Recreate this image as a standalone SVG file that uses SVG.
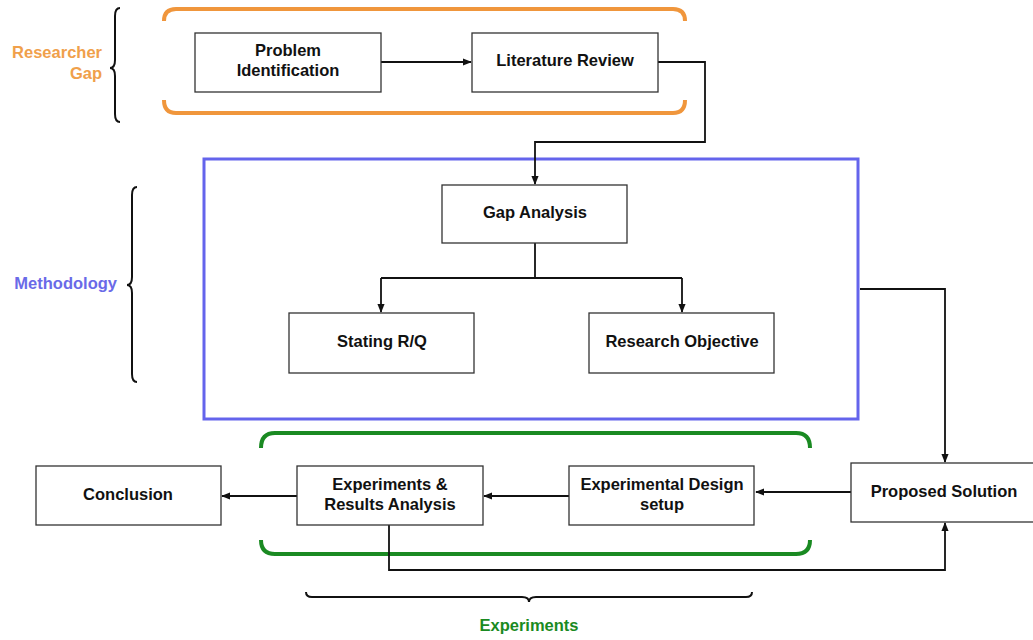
<svg xmlns="http://www.w3.org/2000/svg" width="1033" height="640" viewBox="0 0 1033 640">
  <style>
    .box { fill: #ffffff; stroke: #333333; stroke-width: 1.3; }
    .lbl { font-family: "Liberation Sans", Arial, sans-serif; font-weight: bold; font-size: 16.5px; fill: #111111; text-anchor: middle; }
    .grp { font-family: "Liberation Sans", Arial, sans-serif; font-weight: bold; font-size: 16.5px; }
    .wire { fill: none; stroke: #111111; stroke-width: 1.8; }
    .brace { fill: none; stroke: #111111; stroke-width: 2; }
  </style>
  <defs>
    <marker id="arrow" viewBox="0 0 10 10" refX="9" refY="5" markerWidth="9" markerHeight="9" markerUnits="userSpaceOnUse" orient="auto">
      <path d="M0,1 L10,5 L0,9 z" fill="#111111"/>
    </marker>
  </defs>
  <rect width="1033" height="640" fill="#ffffff"/>

  <!-- Researcher Gap group -->
  <g id="researcher-gap">
    <text class="grp" fill="#f0a04b" text-anchor="end" x="102" y="58">Researcher</text>
    <text class="grp" fill="#f0a04b" text-anchor="end" x="102" y="79">Gap</text>
    <path class="brace" d="M120,8 Q115,8 115,16 L115,60 Q115,68 110,68 Q115,68 115,76 L115,114 Q115,122 120,122"/>
    <path d="M164,21 Q164,9 176,9 L673,9 Q685,9 685,21" fill="none" stroke="#f0963c" stroke-width="4"/>
    <path d="M164,100 Q164,113 176,113 L673,113 Q685,113 685,100" fill="none" stroke="#f0963c" stroke-width="4"/>
  </g>

  <!-- Methodology group -->
  <g id="methodology">
    <text class="grp" fill="#6a6ae8" text-anchor="end" x="117" y="289">Methodology</text>
    <path class="brace" d="M137,187 Q132,187 132,195 L132,277 Q132,285 127,285 Q132,285 132,293 L132,374 Q132,382 137,382"/>
    <rect x="204" y="159" width="654" height="260" fill="none" stroke="#6464ec" stroke-width="3"/>
  </g>

  <!-- Experiments group -->
  <g id="experiments">
    <path d="M261,448 Q261,433 275,433 L796,433 Q810,433 810,448" fill="none" stroke="#1a8a22" stroke-width="4"/>
    <path d="M261,540 Q261,554 275,554 L796,554 Q810,554 810,540" fill="none" stroke="#1a8a22" stroke-width="4"/>
    <path class="brace" d="M306,592 Q306,597 312,597 L522,597 Q529,597 529,602 Q529,597 536,597 L746,597 Q752,597 752,592"/>
    <text class="grp" fill="#1a8a22" text-anchor="middle" x="529" y="631">Experiments</text>
  </g>

  <!-- Connectors -->
  <g id="connectors">
    <path class="wire" d="M381,62 L471,62" marker-end="url(#arrow)"/>
    <path class="wire" d="M658,62 L705,62 L705,142 L535,142 L535,184" marker-end="url(#arrow)"/>
    <path class="wire" d="M535,243 L535,278"/>
    <path class="wire" d="M381,278 L682,278"/>
    <path class="wire" d="M381,278 L381,312" marker-end="url(#arrow)"/>
    <path class="wire" d="M682,278 L682,312" marker-end="url(#arrow)"/>
    <path class="wire" d="M860,289 L945,289 L945,462" marker-end="url(#arrow)"/>
    <path class="wire" d="M851,492 L756,492" marker-end="url(#arrow)"/>
    <path class="wire" d="M569,496 L484,496" marker-end="url(#arrow)"/>
    <path class="wire" d="M297,496 L222,496" marker-end="url(#arrow)"/>
    <path class="wire" d="M389,525 L389,570 L945,570 L945,523" marker-end="url(#arrow)"/>
  </g>

  <!-- Nodes -->
  <g id="problem-identification">
    <rect class="box" x="195" y="33" width="186" height="59"/>
    <text class="lbl" x="288" y="56">Problem</text>
    <text class="lbl" x="288" y="76">Identification</text>
  </g>
  <g id="literature-review">
    <rect class="box" x="472" y="33" width="186" height="59"/>
    <text class="lbl" x="565" y="66">Literature Review</text>
  </g>
  <g id="gap-analysis">
    <rect class="box" x="442" y="185" width="185" height="58"/>
    <text class="lbl" x="535" y="218">Gap Analysis</text>
  </g>
  <g id="stating-rq">
    <rect class="box" x="289" y="313" width="185" height="60"/>
    <text class="lbl" x="382" y="347">Stating R/Q</text>
  </g>
  <g id="research-objective">
    <rect class="box" x="589" y="313" width="185" height="60"/>
    <text class="lbl" x="682" y="347">Research Objective</text>
  </g>
  <g id="proposed-solution">
    <rect class="box" x="851" y="463" width="184" height="59"/>
    <text class="lbl" x="944" y="497">Proposed Solution</text>
  </g>
  <g id="experimental-design">
    <rect class="box" x="569" y="466" width="185" height="59"/>
    <text class="lbl" x="662" y="490">Experimental Design</text>
    <text class="lbl" x="662" y="510">setup</text>
  </g>
  <g id="experiments-results">
    <rect class="box" x="297" y="466" width="186" height="59"/>
    <text class="lbl" x="390" y="490">Experiments &amp;</text>
    <text class="lbl" x="390" y="510">Results Analysis</text>
  </g>
  <g id="conclusion">
    <rect class="box" x="36" y="466" width="185" height="59"/>
    <text class="lbl" x="128" y="500">Conclusion</text>
  </g>
</svg>
